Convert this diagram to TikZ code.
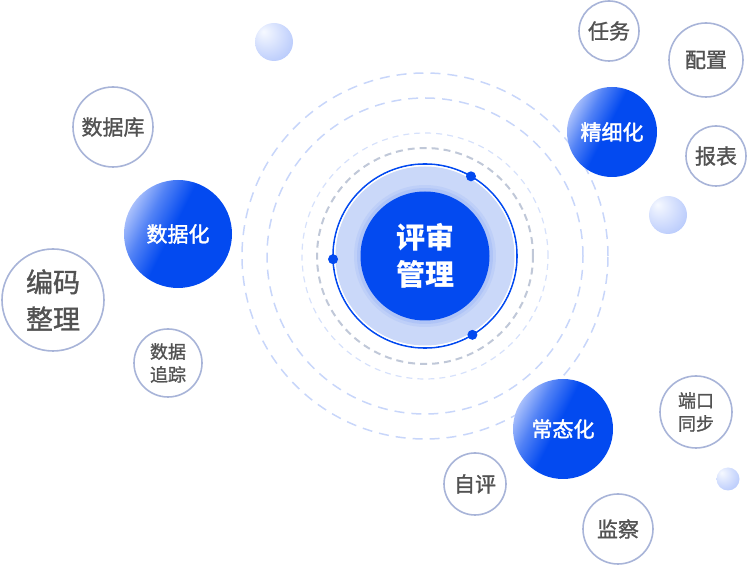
\documentclass[tikz,border=0pt]{standalone}
\usepackage{fontspec}
\newfontfamily\cjk{Noto Sans CJK SC}
\newfontfamily\cjkmid{Noto Sans CJK SC}[FakeBold=1.2]
\newfontfamily\cjkwhite{Noto Sans CJK SC}[FakeBold=1.8]
\definecolor{mainblue}{RGB}{3,74,240}
\definecolor{gradlight}{RGB}{178,198,252}
\colorlet{gradmid}{mainblue!55!gradlight}
\definecolor{ringfill}{RGB}{202,216,249}
\definecolor{ringgray}{RGB}{192,200,216}
\definecolor{ringlight}{RGB}{200,214,250}
\definecolor{ringpale}{RGB}{214,225,251}
\definecolor{tagline}{RGB}{168,180,216}
\definecolor{tagtext}{RGB}{82,82,82}
\definecolor{spherelight}{RGB}{246,249,255}
\definecolor{spheremid}{RGB}{208,220,253}
\definecolor{sphereedge}{RGB}{160,184,250}
\pgfdeclareradialshading{sphere}{\pgfpoint{-14bp}{14bp}}{color(0bp)=(spherelight); color(22bp)=(spheremid); color(50bp)=(sphereedge); color(70bp)=(sphereedge)}
\pgfdeclareverticalshading{pillarshade}{100bp}{color(0bp)=(mainblue); color(53bp)=(mainblue); color(65bp)=(gradmid); color(76bp)=(gradlight); color(100bp)=(gradlight)}
\tikzset{
  hub/.style={circle, fill=mainblue, text=white, inner sep=0pt, minimum size=129pt,
    font=\cjk\bfseries\fontsize{29}{37}\selectfont, align=center},
  pillar/.style={circle, inner sep=0pt, text=white, font=\cjkwhite\fontsize{21}{26}\selectfont,
    shade, shading=pillarshade, shading angle=63},
  tag/.style={circle, draw=tagline, line width=1.6pt, fill=white, inner sep=0pt, text=tagtext,
    font=\cjkmid\fontsize{21}{26}\selectfont, align=center},
  small tag/.style={tag, font=\cjkmid\fontsize{18}{23}\selectfont},
  bubble/.style={circle, inner sep=0pt, shading=sphere},
  knob/.style={circle, fill=mainblue, inner sep=0pt, minimum size=10pt},
}
\begin{document}
\begin{tikzpicture}[x=1pt,y=1pt]
  \useasboundingbox (0,0) rectangle (748,565);
  \coordinate (c) at (425,309);
  % dashed orbits
  \draw [ringlight, line width=1.5pt, dash pattern=on 10pt off 7pt] (c) circle (183pt);
  \draw [ringlight, line width=1.5pt, dash pattern=on 10pt off 7pt] (c) circle (158pt);
  \draw [ringpale, line width=1.2pt, dash pattern=on 6pt off 5pt] (c) circle (123pt);
  \draw [ringgray, line width=2pt, dash pattern=on 7pt off 5pt] (c) circle (108pt);
  % ring round the hub
  \draw [mainblue, line width=1.6pt] (c) circle (92pt);
  \fill [white] (c) circle (91pt);
  \fill [ringfill] (c) circle (89.5pt);
  \fill [mainblue, opacity=0.06] (c) circle (71pt);
  \fill [mainblue, opacity=0.08] (c) circle (68pt);
  \node [hub] (hub) at (c) {评审\\管理};
  \node [knob] (knob1) at ([shift={(60:92pt)}]c) {};
  \node [knob] (knob2) at ([shift={(182:92pt)}]c) {};
  \node [knob] (knob3) at ([shift={(-59:92pt)}]c) {};
  %
  % blue pillars
  \node [pillar, minimum size=108pt] (shujuhua) at (178,331) {数据化};
  \node [pillar, minimum size=90pt] (jingxihua) at (612,433) {精细化};
  \node [pillar, minimum size=100pt] (changtaihua) at (563,136) {常态化};
  %
  % outlined tags
  \node [tag, minimum size=80pt] (shujuku) at (113,438) {数据库};
  \node [tag, minimum size=102pt, font=\cjkmid\fontsize{27}{37}\selectfont] (bianma) at (53,265) {编码\\整理};
  \node [small tag, minimum size=68pt] (zhuizong) at (168,202) {数据\\追踪};
  \node [tag, minimum size=60pt] (renwu) at (609,534) {任务};
  \node [tag, minimum size=74pt] (peizhi) at (706,505) {配置};
  \node [tag, minimum size=60pt] (baobiao) at (716,409) {报表};
  \node [small tag, minimum size=72pt] (duankou) at (696,153) {端口\\同步};
  \node [tag, minimum size=62pt] (ziping) at (475,81) {自评};
  \node [tag, minimum size=70pt] (jiancha) at (618,36) {监察};
  %
  % little spheres
  \node [bubble, minimum size=38pt] (bubble1) at (274,523) {};
  \node [bubble, minimum size=38pt] (bubble2) at (668,350) {};
  \node [bubble, minimum size=23pt] (bubble3) at (728,86) {};
\end{tikzpicture}
\end{document}
